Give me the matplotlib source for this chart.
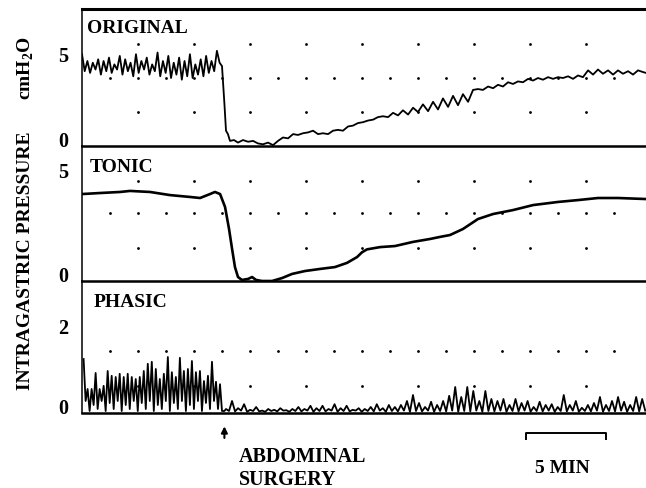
import numpy as np
import matplotlib
matplotlib.use("Agg")
import matplotlib.pyplot as plt

plt.rcParams['font.family'] = ['Liberation Serif', 'DejaVu Serif']
plt.rcParams['font.weight'] = 'bold'
plt.rcParams['mathtext.fontset'] = 'custom'
plt.rcParams['mathtext.rm'] = 'Liberation Serif:bold'
plt.rcParams['mathtext.bf'] = 'Liberation Serif:bold'

# ====================== data (time in min) ======================
SURGERY_T = 8.9
T_END = 35.25

# ORIGINAL, before surgery (even sampling 0 .. 8.6 min)
orig_pre = [5.4, 4.4, 5.0, 4.3, 4.9, 4.5, 5.1, 4.2, 5.0, 4.4, 5.2, 4.3, 4.8,
            4.5, 5.3, 4.2, 5.1, 4.4, 4.9, 4.1, 5.4, 4.3, 5.0, 4.5, 5.2, 4.2,
            4.8, 4.4, 5.5, 4.1, 5.0, 4.3, 5.3, 4.0, 4.9, 4.2, 5.2, 3.9, 5.0,
            4.1, 5.4, 4.0, 4.8, 4.2, 5.1, 4.1, 5.3, 4.3, 5.0, 4.4, 5.6, 4.9]
orig_pre_span = (0.0, 8.6)

# ORIGINAL, drop and recovery
t_orig_post = [8.75, 8.9, 9.0, 9.12, 9.25, 9.5, 9.75, 10.06, 10.38, 10.69,
               11.0, 11.31, 11.63, 11.94, 12.25, 12.56, 12.88, 13.19, 13.5,
               13.81, 14.13, 14.44, 14.75, 15.06, 15.38, 15.69, 16.0, 16.31,
               16.63, 16.94, 17.25, 17.56, 17.88, 18.19, 18.5, 18.81, 19.13,
               19.44, 19.75, 20.06, 20.38, 20.69, 21.0, 21.31, 21.63, 21.94,
               22.25, 22.56, 22.88, 23.19, 23.5, 23.81, 24.13, 24.44, 24.75,
               25.06, 25.38, 25.69, 26.0, 26.31, 26.63, 26.94, 27.25, 27.56,
               27.88, 28.19, 28.5, 28.81, 29.13, 29.44, 29.75, 30.06, 30.38,
               30.69, 31.0, 31.31, 31.63, 31.94, 32.25, 32.56, 32.88, 33.19,
               33.5, 33.81, 34.13, 34.44, 34.75, 35.06, 35.25]
p_orig_post = [4.7, 2.5, 0.9, 0.7, 0.3, 0.35, 0.2, 0.35, 0.25, 0.3, 0.15, 0.1,
               0.2, 0.05, 0.3, 0.5, 0.45, 0.7, 0.65, 0.75, 0.8, 0.9, 0.7, 0.75,
               0.7, 0.9, 0.95, 0.9, 1.15, 1.2, 1.35, 1.4, 1.5, 1.55, 1.7, 1.75,
               1.7, 1.95, 1.8, 2.1, 1.85, 2.25, 2.0, 2.45, 2.05, 2.6, 2.15, 2.8,
               2.3, 2.95, 2.4, 3.05, 2.6, 3.3, 3.35, 3.3, 3.5, 3.4, 3.6, 3.5,
               3.75, 3.65, 3.8, 3.75, 3.95, 3.85, 4.0, 3.9, 4.05, 3.95, 4.05,
               4.0, 4.1, 3.95, 4.15, 4.05, 4.45, 4.2, 4.5, 4.25, 4.45, 4.2, 4.45,
               4.25, 4.4, 4.2, 4.45, 4.35, 4.3]

# TONIC
t_tonic = [0.0, 1.13, 2.38, 3.0, 4.25, 5.5, 6.75, 7.38, 8.0, 8.31, 8.63,
           8.94, 9.19, 9.38, 9.56, 9.75, 10.0, 10.38, 10.63, 10.88, 11.25,
           11.88, 12.5, 13.13, 13.94, 14.88, 15.81, 16.56, 17.19, 17.5, 17.81,
           18.63, 19.56, 20.69, 21.75, 22.38, 23.0, 23.81, 24.75, 25.69,
           26.94, 28.19, 29.75, 31.0, 32.25, 33.5, 35.25]
p_tonic = [4.18, 4.23, 4.28, 4.33, 4.28, 4.13, 4.04, 3.99, 4.18, 4.28, 4.18,
           3.56, 2.5, 1.54, 0.67, 0.19, 0.05, 0.1, 0.19, 0.05, 0.0, 0.0, 0.14,
           0.34, 0.48, 0.58, 0.67, 0.87, 1.15, 1.38, 1.52, 1.63, 1.68, 1.88,
           2.02, 2.12, 2.21, 2.5, 2.98, 3.22, 3.41, 3.65, 3.8, 3.89, 3.99,
           3.99, 3.94]

# PHASIC, before surgery: spike peaks and the troughs that follow them
phasic_pre_peaks = [1.35, 0.6, 0.6, 1.0, 0.6, 0.68, 1.05, 0.93, 0.9, 0.98,
                    0.9, 0.98, 0.9, 0.85, 0.9, 1.05, 1.23, 1.28, 1.1, 0.85,
                    0.98, 1.4, 1.02, 0.9, 1.38, 1.05, 1.1, 1.3, 1.02, 1.05,
                    0.8, 0.93, 1.28, 0.78, 0.72]
phasic_pre_troughs = [0.3, 0.05, 0.2, 0.1, 0.3, 0.05, 0.25, 0.1, 0.3, 0.05,
                      0.2, 0.1, 0.3, 0.05, 0.25, 0.1, 0.3, 0.05, 0.2, 0.1,
                      0.3, 0.05, 0.25, 0.1, 0.3, 0.05, 0.2, 0.1, 0.3, 0.05,
                      0.25, 0.1, 0.3, 0.1, 0.05]
phasic_pre_span = (0.1, 8.75)

# PHASIC, after surgery
phasic_post_peaks = [0.1, 0.3, 0.12, 0.22, 0.08, 0.15,
                     0.06, 0.1, 0.08, 0.12, 0.07, 0.1, 0.15, 0.1, 0.18, 0.12,
                     0.18, 0.1, 0.22, 0.12, 0.18, 0.08, 0.12, 0.1, 0.15, 0.22,
                     0.12, 0.2, 0.15,
                     0.2, 0.3, 0.45, 0.25, 0.15, 0.28, 0.2,
                     0.3, 0.43, 0.65, 0.4, 0.65, 0.55, 0.3, 0.55, 0.35, 0.3,
                     0.35, 0.2, 0.35, 0.25, 0.3, 0.15, 0.28, 0.2, 0.22, 0.15,
                     0.45, 0.2, 0.3, 0.13, 0.2, 0.25, 0.4, 0.2, 0.3, 0.4, 0.28,
                     0.2, 0.4, 0.35]
phasic_post_troughs = [0.05, 0.04, 0.06, 0.03, 0.05, 0.04, 0.03, 0.05, 0.04,
                       0.06, 0.03, 0.05, 0.04, 0.06, 0.03, 0.05, 0.04, 0.06,
                       0.03, 0.05, 0.04, 0.06, 0.03, 0.05, 0.04, 0.06, 0.03,
                       0.05, 0.04, 0.06, 0.03, 0.05, 0.04, 0.06, 0.03, 0.05,
                       0.04, 0.06, 0.03, 0.05, 0.04, 0.06, 0.03, 0.05, 0.04,
                       0.06, 0.03, 0.05, 0.04, 0.06, 0.03, 0.05, 0.04, 0.06,
                       0.03, 0.05, 0.04, 0.06, 0.03, 0.05, 0.04, 0.06, 0.03,
                       0.05, 0.04, 0.06, 0.03, 0.05, 0.04, 0.06]
phasic_post_span = (9.0, 35.2)

# chart paper dot rows (values on each panel's own scale)
orig_rows = {"sparse": [2.0, 6.0], "dense": [4.0]}
tonic_rows = {"sparse": [1.59, 4.81], "dense": [3.27]}
phasic_rows = {"sparse": [0.675], "dense": [1.55]}

panel_names = ["ORIGINAL", "TONIC", "PHASIC"]
panel_ylim = [8.06, 6.49, 3.3]
panel_ticks = [[0, 5], [0, 5], [0, 2]]


def interleave(peaks, troughs, span):
    vals = []
    for p, q in zip(peaks, troughs):
        vals += [p, q]
    t = np.linspace(span[0], span[1], len(vals))
    return t, np.array(vals)


# ====================== figure ======================
W, H = 646, 489
fig = plt.figure(figsize=(W / 100, H / 100), dpi=100)

left = 82 / W
width = 1 - left
edges = [10, 147, 282, 414]   # pixel rows of the panel borders
axes = []
for i in range(3):
    bottom = 1 - edges[i + 1] / H
    height = (edges[i + 1] - edges[i]) / H
    ax = fig.add_axes([left, bottom, width, height])
    ax.set_xlim(0, T_END)
    ax.set_ylim(0, panel_ylim[i])
    ax.set_xticks([])
    ax.set_yticks(panel_ticks[i], [str(v) for v in panel_ticks[i]],
                  va='baseline', fontsize=14.5, fontweight='bold')
    ax.tick_params(axis='y', length=0, pad=10)
    ax.spines['right'].set_visible(False)
    ax.spines['top'].set_visible(i == 0)
    ax.spines['top'].set_linewidth(2.2)
    ax.spines['bottom'].set_linewidth(1.8)
    ax.spines['left'].set_linewidth(1.1)
    ax.patch.set_alpha(0)
    axes.append(ax)

ax1, ax2, ax3 = axes

# dot grid
dense_x = np.arange(1.75, 34.0, 1.75)
sparse_x = np.arange(3.5, 33.0, 3.5)
for ax, rows in zip(axes, [orig_rows, tonic_rows, phasic_rows]):
    for yv in rows["sparse"]:
        ax.scatter(sparse_x, [yv] * len(sparse_x), s=4, color='black', lw=0)
    for yv in rows["dense"]:
        ax.scatter(dense_x, [yv] * len(dense_x), s=4, color='black', lw=0)

# ORIGINAL trace
t_pre = np.linspace(orig_pre_span[0], orig_pre_span[1], len(orig_pre))
ax1.plot(np.concatenate([t_pre, t_orig_post]),
         np.concatenate([orig_pre, p_orig_post]),
         color='black', lw=1.3, solid_joinstyle='round')

# TONIC trace
ax2.plot(t_tonic, p_tonic, color='black', lw=1.9, solid_capstyle='round',
         solid_joinstyle='round')

# PHASIC trace
tp1, vp1 = interleave(phasic_pre_peaks, phasic_pre_troughs, phasic_pre_span)
tp2, vp2 = interleave(phasic_post_peaks, phasic_post_troughs, phasic_post_span)
ax3.plot(np.concatenate([tp1, [SURGERY_T], tp2]),
         np.concatenate([vp1, [0.05], vp2]),
         color='black', lw=1.3)

# panel titles
title_pos = [(0.009, 0.832), (0.013, 0.815), (0.02, 0.81)]
for ax, name, (x, y) in zip(axes, panel_names, title_pos):
    ax.text(x, y, name, transform=ax.transAxes, fontsize=14,
            fontweight='bold', ha='left', va='baseline')

# y-axis label
fig.text(26 / W, 1 - 261 / H, "INTRAGASTRIC PRESSURE", rotation=90,
         ha='center', va='center', fontsize=14, fontweight='bold')
fig.text(26 / W, 1 - 68 / H, r"cmH$_2$O", rotation=90,
         ha='center', va='center', fontsize=14, fontweight='bold')

# surgery marker
xt = ax3.get_xaxis_transform()
ax3.annotate("", xy=(SURGERY_T, -0.08), xytext=(SURGERY_T, -0.21),
             xycoords=xt, textcoords=xt, annotation_clip=False,
             arrowprops=dict(arrowstyle='-|>', color='black', lw=1.5,
                             mutation_scale=9))
ax3.text(SURGERY_T + 0.9, -0.326, "ABDOMINAL", transform=xt, fontsize=14.5,
         fontweight='bold', ha='left', va='center')
ax3.text(SURGERY_T + 0.9, -0.5, "SURGERY", transform=xt, fontsize=14.5,
         fontweight='bold', ha='left', va='center')

# 5 min scale bar
bar_start = 27.75
bar_len = 5.0
ax3.plot([bar_start, bar_start, bar_start + bar_len, bar_start + bar_len],
         [-0.2, -0.15, -0.15, -0.2], transform=xt, color='black', lw=1.4,
         clip_on=False)
ax3.text(bar_start + bar_len / 2 - 0.2, -0.415, "5 MIN", transform=xt,
         fontsize=14, fontweight='bold', ha='center', va='center')

fig.savefig("out.png", dpi=100)
